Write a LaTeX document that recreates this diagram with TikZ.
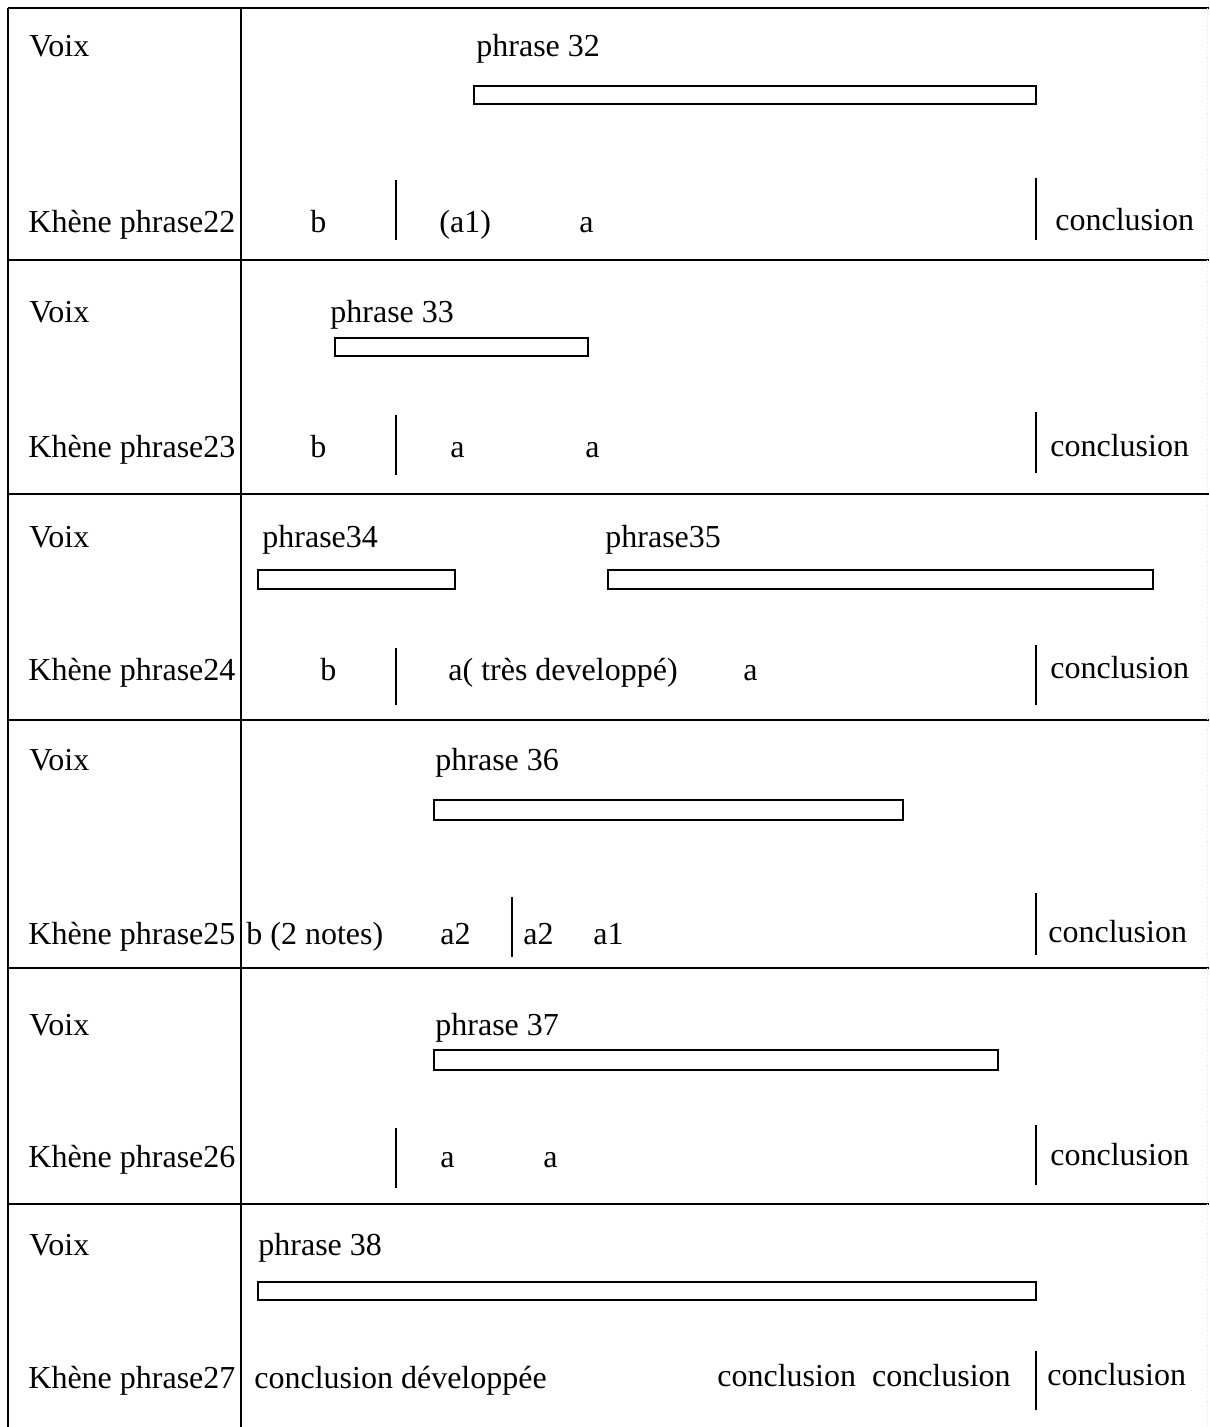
\documentclass[tikz,border=0pt]{standalone}
\usepackage{fontspec}
\setmainfont{Liberation Serif}
\usetikzlibrary{positioning}

\tikzset{
  lbl/.style={anchor=base west, inner sep=0pt, font=\fontsize{16}{19}\selectfont},
  rule/.style={line width=0.75pt},
  barbox/.style={draw, line width=0.9pt},
  divider/.style={line width=1.2pt},
}

\begin{document}
\begin{tikzpicture}[x=0.5pt,y=-0.5pt]
    \useasboundingbox (0,0) rectangle (1209,1427);

    % Table frame
    \draw[rule] (8,8) -- (1209,8);
    \foreach \ry in {260,494,720,968,1204}
      \draw[rule] (8,\ry) -- (1209,\ry);
    \draw[rule] (8,8) -- (8,1427);
    \draw[rule] (241,8) -- (241,1427);
    \draw[gray!20, densely dotted] (1207,8) -- (1207,1427);

    % Row 1
    \node[lbl] (voix1) at (29,57) {Voix};
    \node[lbl] (phr32) at (476,57) {phrase 32};
    \draw[barbox] (474,86) rectangle (1036,104);
    \node[lbl] (khene22) at (28,233) {Khène phrase22};
    \node[lbl] (b22) at (310,233) {b};
    \draw[divider] (396,180) -- (396,240);
    \node[lbl] (aa22) at (439,233) {(a1)};
    \node[lbl] (a22) at (579,233) {a};
    \draw[divider] (1036,178) -- (1036,240);
    \node[lbl] (concl22) at (1055,231) {conclusion};

    % Row 2
    \node[lbl] (voix2) at (29,323) {Voix};
    \node[lbl] (phr33) at (330,323) {phrase 33};
    \draw[barbox] (335,338) rectangle (588,356);
    \node[lbl] (khene23) at (28,458) {Khène phrase23};
    \node[lbl] (b23) at (310,458) {b};
    \draw[divider] (396,415) -- (396,475);
    \node[lbl] (a23) at (450,458) {a};
    \node[lbl] (ab23) at (585,458) {a};
    \draw[divider] (1036,412) -- (1036,473);
    \node[lbl] (concl23) at (1050,456) {conclusion};

    % Row 3
    \node[lbl] (voix3) at (29,547) {Voix};
    \node[lbl] (phr34) at (262,547) {phrase34};
    \node[lbl] (phr35) at (605,547) {phrase35};
    \draw[barbox] (258,570) rectangle (455,589);
    \draw[barbox] (608,570) rectangle (1153,589);
    \node[lbl] (khene24) at (28,680) {Khène phrase24};
    \node[lbl] (b24) at (320,680) {b};
    \draw[divider] (396,648) -- (396,705);
    \node[lbl] (a24) at (448,680) {a( très developpé)};
    \node[lbl] (ab24) at (743,680) {a};
    \draw[divider] (1036,645) -- (1036,705);
    \node[lbl] (concl24) at (1050,678) {conclusion};

    % Row 4
    \node[lbl] (voix4) at (29,770) {Voix};
    \node[lbl] (phr36) at (435,770) {phrase 36};
    \draw[barbox] (434,800) rectangle (903,820);
    \node[lbl] (khene25) at (28,944) {Khène phrase25};
    \node[lbl] (b25) at (246,944) {b (2 notes)};
    \node[lbl] (a25) at (440,944) {a2};
    \draw[divider] (512,897) -- (512,957);
    \node[lbl] (ab25) at (523,944) {a2};
    \node[lbl] (ac25) at (593,944) {a1};
    \draw[divider] (1036,893) -- (1036,955);
    \node[lbl] (concl25) at (1048,942) {conclusion};

    % Row 5
    \node[lbl] (voix5) at (29,1035) {Voix};
    \node[lbl] (phr37) at (435,1035) {phrase 37};
    \draw[barbox] (434,1050) rectangle (998,1070);
    \node[lbl] (khene26) at (28,1167) {Khène phrase26};
    \draw[divider] (396,1128) -- (396,1188);
    \node[lbl] (a26) at (440,1167) {a};
    \node[lbl] (ab26) at (543,1167) {a};
    \draw[divider] (1036,1125) -- (1036,1185);
    \node[lbl] (concl26) at (1050,1165) {conclusion};

    % Row 6
    \node[lbl] (voix6) at (29,1255) {Voix};
    \node[lbl] (phr38) at (258,1255) {phrase 38};
    \draw[barbox] (258,1282) rectangle (1036,1300);
    \node[lbl] (khene27) at (28,1388) {Khène phrase27};
    \node[lbl] (cd27) at (254,1388) {conclusion développée};
    \node[lbl] (cc27) at (717,1386) {conclusion~~conclusion};
    \draw[divider] (1036,1351) -- (1036,1410);
    \node[lbl] (concl27) at (1047,1385) {conclusion};
\end{tikzpicture}
\end{document}
